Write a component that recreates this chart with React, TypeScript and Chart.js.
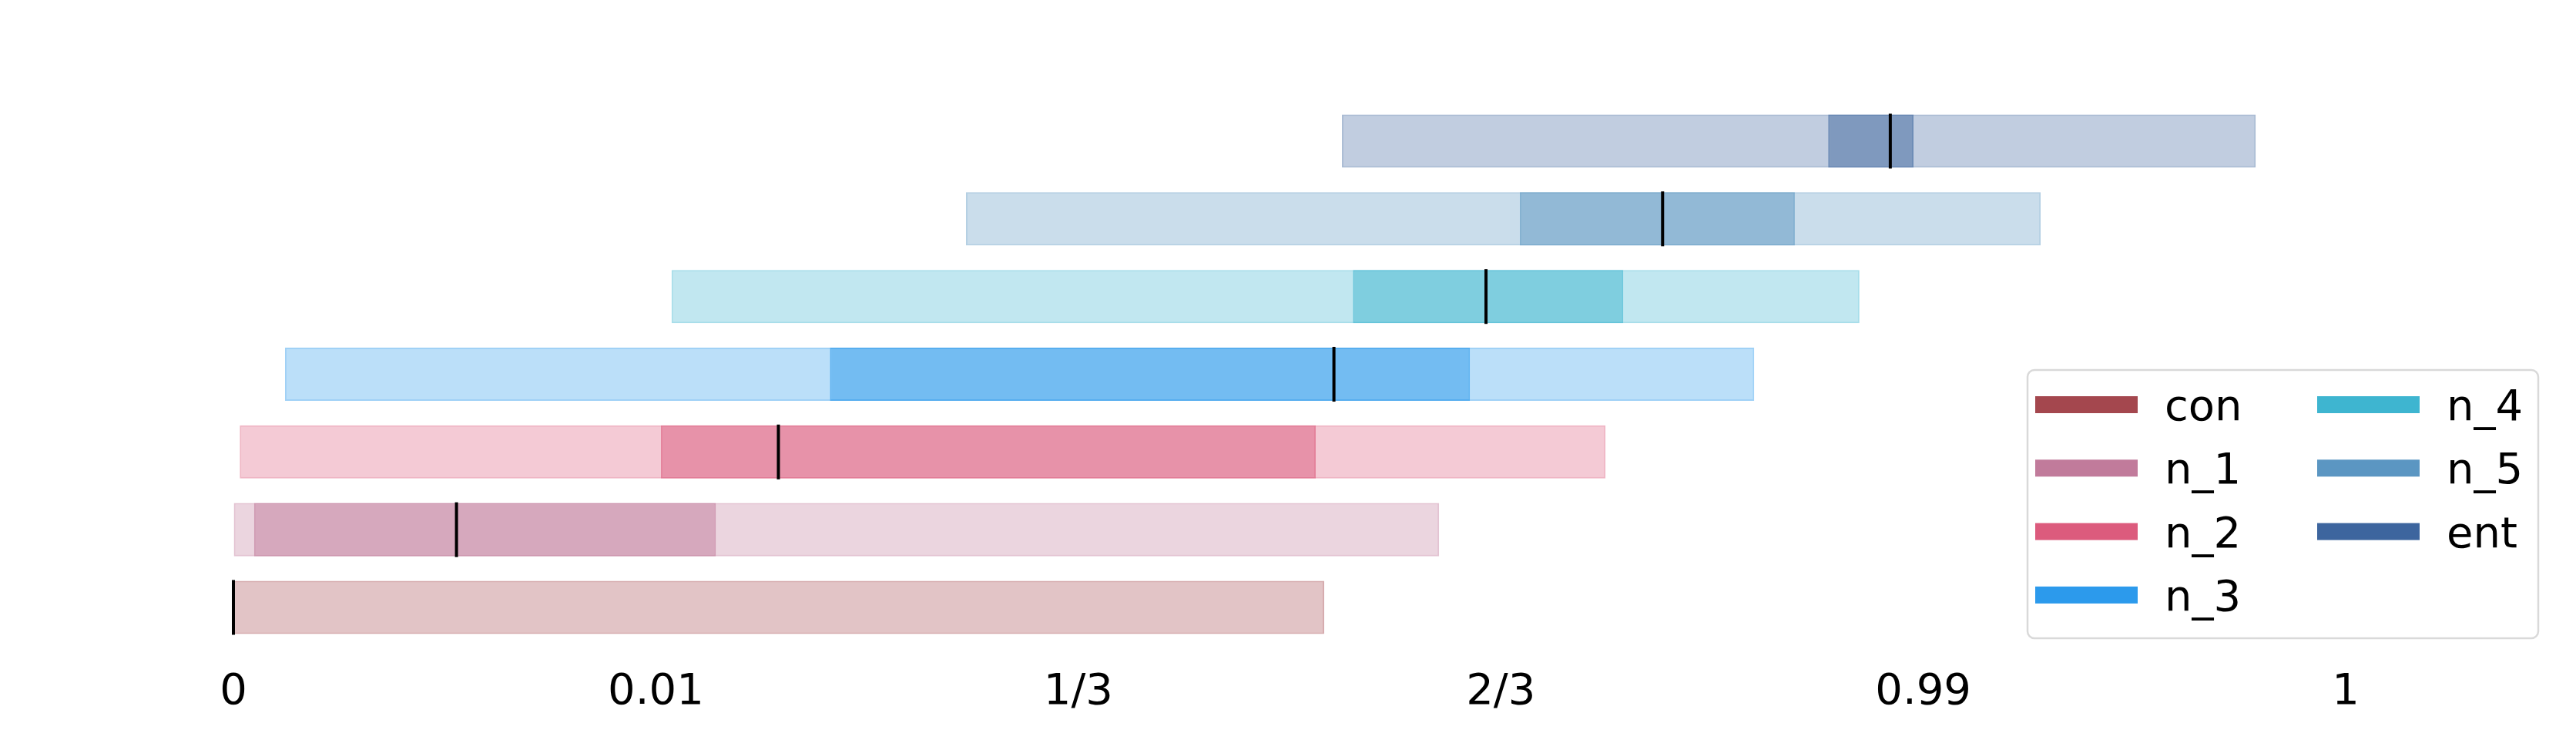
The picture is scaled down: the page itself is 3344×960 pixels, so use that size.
import { useEffect, useRef } from "react";
import { Chart, registerables } from "chart.js";

Chart.register(...registerables);

const categories = ["con", "n_1", "n_2", "n_3", "n_4", "n_5", "ent"];
const colors = ["#A4474E", "#C17B9B", "#DC5B7D", "#2C9AEC", "#3EB5D0", "#5B96C2", "#3D659E"];
const rangeLow = [0, 0.001, 0.015, 0.122, 1.037, 1.734, 2.624];
const rangeHigh = [2.582, 2.854, 3.248, 3.6, 3.849, 4.278, 4.787];
const iqrLow = [null, 0.049, 1.012, 1.412, 2.65, 3.045, 3.775];
const iqrHigh = [null, 1.142, 2.562, 2.927, 3.29, 3.696, 3.977];
const medians = [0, 0.528, 1.29, 2.605, 2.965, 3.383, 3.922];
const tickValues = [0, 1, 2, 3, 4, 5];
const tickLabels = ["0", "0.01", "1/3", "2/3", "0.99", "1"];

const FONT = "'DejaVu Sans', sans-serif";

function rgba(hex: string, a: number) {
  const n = parseInt(hex.slice(1), 16);
  return `rgba(${(n >> 16) & 255},${(n >> 8) & 255},${n & 255},${a})`;
}

const medianPlugin = {
  id: "medianLines",
  afterDatasetsDraw(chart: any) {
    const ctx = chart.ctx;
    const xs = chart.scales.x;
    const ys = chart.scales.y;
    const meta = chart.getDatasetMeta(0);
    ctx.save();
    ctx.strokeStyle = "#000";
    ctx.lineWidth = 4;
    medians.forEach((m, i) => {
      const el: any = meta.data[i];
      const h = el ? el.height : 68;
      const x = xs.getPixelForValue(m);
      const y = ys.getPixelForValue(i);
      ctx.beginPath();
      ctx.moveTo(x, y - h / 2 - 1);
      ctx.lineTo(x, y + h / 2 + 1);
      ctx.stroke();
    });
    ctx.restore();
  },
};

const legendPlugin = {
  id: "customLegend",
  afterDraw(chart: any) {
    const ctx = chart.ctx;
    ctx.save();
    const bx = 2632, by = 480, bw = 663, bh = 348, r = 9;
    ctx.beginPath();
    ctx.moveTo(bx + r, by);
    ctx.arcTo(bx + bw, by, bx + bw, by + bh, r);
    ctx.arcTo(bx + bw, by + bh, bx, by + bh, r);
    ctx.arcTo(bx, by + bh, bx, by, r);
    ctx.arcTo(bx, by, bx + bw, by, r);
    ctx.closePath();
    ctx.fillStyle = "rgba(255,255,255,0.85)";
    ctx.fill();
    ctx.strokeStyle = "#d9d9d9";
    ctx.lineWidth = 2.5;
    ctx.stroke();
    ctx.font = `56px ${FONT}`;
    ctx.textBaseline = "alphabetic";
    ctx.textAlign = "left";
    categories.forEach((c, i) => {
      const col = i < 4 ? 0 : 1;
      const row = i < 4 ? i : i - 4;
      const sx = 2642 + col * 366;
      const cy = 525 + row * 82.3;
      ctx.fillStyle = colors[i];
      ctx.fillRect(sx, cy - 11, 133, 22);
      ctx.fillStyle = "#000";
      ctx.fillText(c, sx + 168, cy + 20);
    });
    ctx.restore();
  },
};

export default function App() {
  const ref = useRef<HTMLCanvasElement | null>(null);
  useEffect(() => {
    if (!ref.current) return;
    const chart = new Chart(ref.current, {
      type: "bar",
      data: {
        labels: categories,
        datasets: [
          {
            label: "range",
            data: categories.map((_, i) => [rangeLow[i], rangeHigh[i]]) as any,
            backgroundColor: colors.map((c) => rgba(c, 0.32)),
            borderColor: colors.map((c) => rgba(c, 0.45)),
            borderWidth: 2,
            borderSkipped: false,
            grouped: false,
            barPercentage: 0.685,
            categoryPercentage: 1,
            order: 2,
          },
          {
            label: "iqr",
            data: categories.map((_, i) =>
              iqrLow[i] === null ? null : [iqrLow[i], iqrHigh[i]]
            ) as any,
            backgroundColor: colors.map((c) => rgba(c, 0.5)),
            borderColor: colors.map((c) => rgba(c, 0.62)),
            borderWidth: 2,
            borderSkipped: false,
            grouped: false,
            barPercentage: 0.685,
            categoryPercentage: 1,
            order: 1,
          },
        ],
      },
      options: {
        indexAxis: "y",
        responsive: false,
        animation: false,
        layout: { padding: { top: 132.6, left: 138.5, right: 79.6, bottom: 2.4 } },
        plugins: { legend: { display: false }, tooltip: { enabled: false } },
        scales: {
          x: {
            type: "linear",
            min: -0.3,
            max: 5.4,
            grid: { display: false, drawTicks: false },
            border: { display: false },
            afterBuildTicks: (scale: any) => {
              scale.ticks = tickValues.map((v) => ({ value: v }));
            },
            ticks: {
              autoSkip: false,
              maxRotation: 0,
              padding: 26,
              color: "#000",
              font: { family: FONT, size: 56 },
              callback: (v: any) => {
                const idx = tickValues.indexOf(Number(v));
                return idx >= 0 ? tickLabels[idx] : "";
              },
            },
          },
          y: {
            type: "category",
            reverse: true,
            display: false,
            grid: { display: false },
          },
        },
      },
      plugins: [medianPlugin, legendPlugin],
    });
    return () => chart.destroy();
  }, []);
  return (
    <div style={{ position: "absolute", left: 0, top: 0, width: 3344, height: 960, background: "#fff" }}>
      <canvas ref={ref} width={3344} height={960} style={{ width: 3344, height: 960, display: "block" }} />
    </div>
  );
}
